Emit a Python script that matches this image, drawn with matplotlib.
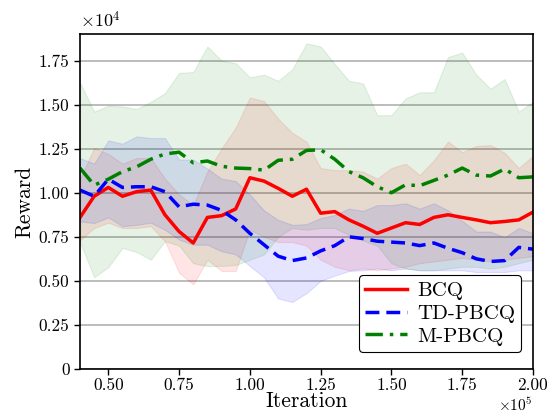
import numpy as np
import matplotlib
matplotlib.use("Agg")
import matplotlib.pyplot as plt

plt.rcParams['font.family'] = ['cmr10', 'DejaVu Serif']
plt.rcParams['mathtext.fontset'] = 'cm'
plt.rcParams['axes.formatter.use_mathtext'] = True

# iterations
iterations = np.arange(40000, 200001, 5000)

# rewards in units of 1e4
bcq_mean = [0.86, 0.98, 1.03, 0.98, 1.006, 1.015, 0.875, 0.78, 0.715, 0.86, 0.87, 0.908,
            1.085, 1.066, 1.025, 0.98, 1.02, 0.884, 0.893, 0.846, 0.81, 0.77, 0.80, 0.83,
            0.82, 0.86, 0.875, 0.86, 0.846, 0.83, 0.837, 0.846, 0.89]
bcq_upper = [1.08, 1.254, 1.22, 1.165, 1.197, 1.197, 1.08, 0.99, 0.93, 1.12, 1.25, 1.37,
             1.54, 1.52, 1.42, 1.34, 1.29, 1.14, 1.128, 1.128, 1.12, 1.08, 1.14, 1.165,
             1.10, 1.184, 1.29, 1.23, 1.265, 1.27, 1.227, 1.14, 1.21]
bcq_lower = [0.73, 0.80, 0.83, 0.80, 0.80, 0.81, 0.725, 0.546, 0.48, 0.62, 0.556, 0.556,
             0.79, 0.75, 0.72, 0.72, 0.70, 0.62, 0.58, 0.56, 0.57, 0.56, 0.57, 0.58,
             0.60, 0.61, 0.62, 0.63, 0.62, 0.61, 0.62, 0.63, 0.64]

td_mean = [1.015, 0.98, 1.077, 1.03, 1.034, 1.034, 1.006, 0.92, 0.935, 0.93, 0.90, 0.846,
           0.77, 0.705, 0.64, 0.615, 0.63, 0.67, 0.70, 0.75, 0.74, 0.725, 0.72, 0.715,
           0.70, 0.715, 0.685, 0.66, 0.625, 0.61, 0.615, 0.69, 0.68]
td_upper = [1.197, 1.165, 1.297, 1.278, 1.32, 1.31, 1.31, 1.188, 1.188, 1.137, 1.08, 1.066,
            0.99, 0.90, 0.846, 0.818, 0.822, 0.856, 0.874, 0.91, 0.897, 0.93, 0.93, 0.94,
            0.91, 0.94, 0.90, 0.84, 0.78, 0.78, 0.747, 0.80, 0.77]
td_lower = [0.837, 0.828, 0.86, 0.81, 0.818, 0.83, 0.79, 0.734, 0.705, 0.705, 0.668, 0.65,
            0.584, 0.52, 0.40, 0.38, 0.43, 0.50, 0.53, 0.556, 0.56, 0.57, 0.56, 0.57,
            0.56, 0.56, 0.56, 0.56, 0.55, 0.55, 0.55, 0.56, 0.56]

m_mean = [1.14, 1.043, 1.077, 1.12, 1.147, 1.19, 1.22, 1.23, 1.17, 1.18, 1.15, 1.14,
          1.137, 1.128, 1.184, 1.19, 1.24, 1.244, 1.19, 1.12, 1.085, 1.034, 1.0, 1.045,
          1.04, 1.07, 1.10, 1.14, 1.10, 1.095, 1.135, 1.085, 1.09]
m_upper = [1.625, 1.46, 1.494, 1.49, 1.475, 1.516, 1.565, 1.68, 1.685, 1.83, 1.75, 1.735,
           1.655, 1.67, 1.635, 1.70, 1.847, 1.83, 1.73, 1.635, 1.62, 1.44, 1.44, 1.535,
           1.57, 1.57, 1.77, 1.795, 1.67, 1.59, 1.645, 1.46, 1.516]
m_lower = [0.72, 0.52, 0.578, 0.687, 0.664, 0.62, 0.725, 0.70, 0.60, 0.584, 0.585, 0.59,
           0.62, 0.65, 0.75, 0.80, 0.79, 0.80, 0.80, 0.76, 0.73, 0.70, 0.60, 0.57,
           0.56, 0.56, 0.57, 0.58, 0.58, 0.57, 0.58, 0.60, 0.62]

series_names = ['BCQ', 'TD-PBCQ', 'M-PBCQ']
xtick_vals = [50000, 75000, 100000, 125000, 150000, 175000, 200000]
xtick_labels = ['0.50', '0.75', '1.00', '1.25', '1.50', '1.75', '2.00']
ytick_vals = [0, 2500, 5000, 7500, 10000, 12500, 15000, 17500]
ytick_labels = ['0', '0.25', '0.50', '0.75', '1.00', '1.25', '1.50', '1.75']

scale = 1e4
fig = plt.figure(figsize=(5.54, 4.16), dpi=100)
ax = fig.add_axes([0.1444, 0.1130, 0.8176, 0.8050])

styles = [
    (bcq_mean, bcq_lower, bcq_upper, 'red', '-'),
    (td_mean, td_lower, td_upper, 'blue', (0, (4, 2))),
    (m_mean, m_lower, m_upper, 'green', (0, (5, 2, 1, 2))),
]
for (mean, lo, hi, c, ls), name in zip(styles, series_names):
    ax.fill_between(iterations, np.array(lo) * scale, np.array(hi) * scale,
                    color=c, alpha=0.1, linewidth=0.8)
for (mean, lo, hi, c, ls), name in zip(styles, series_names):
    ax.plot(iterations, np.array(mean) * scale, color=c, linestyle=ls,
            linewidth=2.5, label=name)

ax.set_xlim(40000, 200000)
ax.set_ylim(0, 19000)
ax.set_xticks(xtick_vals)
ax.set_xticklabels(xtick_labels)
ax.set_yticks(ytick_vals)
ax.set_yticklabels(ytick_labels)
ax.tick_params(labelsize=12.5, length=4, width=1)
ax.tick_params(axis='x', pad=2.5)
ax.yaxis.grid(True, color='#b0b0b0', linewidth=1.2)
ax.set_axisbelow(True)
for s in ax.spines.values():
    s.set_linewidth(1.2)

ax.set_xlabel('Iteration', fontsize=15.5, labelpad=-1)
ax.set_ylabel('Reward', fontsize=15.5, labelpad=3)
ax.text(0.0, 1.01, r'$\times10^{4}$', transform=ax.transAxes, fontsize=13,
        ha='left', va='bottom')
fig.text(0.962, 0.004, r'$\times10^{5}$', fontsize=11,
         ha='right', va='bottom')

leg = ax.legend(loc='lower right', fontsize=15, frameon=True, fancybox=True,
                edgecolor='black', framealpha=1.0, handlelength=2.0,
                borderpad=0.3, labelspacing=0.2, handletextpad=0.5,
                bbox_to_anchor=(0.997, 0.02))
leg.get_frame().set_linewidth(0.8)

fig.savefig('out.png', dpi=100)
